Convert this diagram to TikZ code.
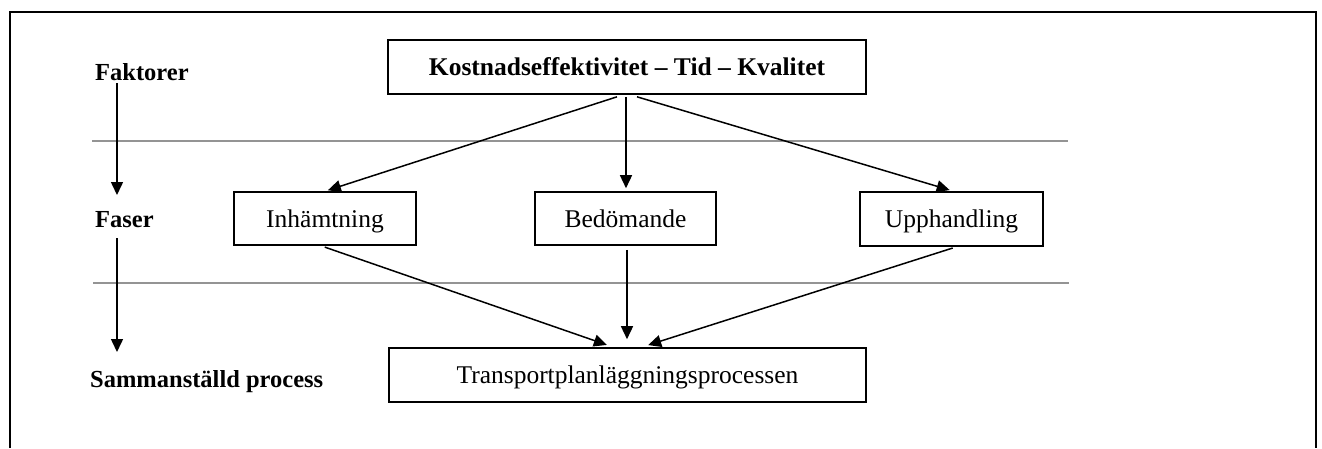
\documentclass[tikz,border=0pt]{standalone}
\usepackage{fontspec}
\setmainfont{Liberation Serif}
\usetikzlibrary{arrows.meta}
\begin{document}
\begin{tikzpicture}[x=1pt,y=-1pt,
  box/.style={draw=black,line width=1.6pt,inner sep=0pt,text height=17.5pt,text depth=0pt,font=\fontsize{25.5}{30}\selectfont},
  lbl/.style={anchor=base west,inner sep=0pt,font=\fontsize{24.5}{30}\selectfont\bfseries},
  conn/.style={draw=black,line width=1.5pt,-{Triangle[length=13pt,width=12pt]}},
  sep/.style={draw=black!42,line width=1.6pt}]
\useasboundingbox (0,0) rectangle (1322,448);
\fill[white] (0,0) rectangle (1322,448);
% frame
\coordinate (f1) at (10,448);
\coordinate (f2) at (10,12);
\coordinate (f3) at (1316,12);
\coordinate (f4) at (1316,448);
\draw[line width=2.6pt,line join=miter] (f1) -- (f2) -- (f3) -- (f4);
% separators
\coordinate (s1a) at (92,141);
\coordinate (s1b) at (1068,141);
\coordinate (s2a) at (93,283);
\coordinate (s2b) at (1069,283);
\draw[sep] (s1a) -- (s1b);
\draw[sep] (s2a) -- (s2b);
% labels
\node[lbl] (fak) at (95,80) {Faktorer};
\node[lbl] (fas) at (95,227) {Faser};
\node[lbl] (sam) at (90,387) {Sammanställd process};
\coordinate (a1s) at (117,83);
\coordinate (a1e) at (117,195);
\coordinate (a2s) at (117,238);
\coordinate (a2e) at (117,352);
\draw[conn] (a1s) -- (a1e);
\draw[conn] (a2s) -- (a2e);
% boxes
\node[box,font=\fontsize{25.5}{30}\selectfont\bfseries,minimum width=478pt,minimum height=54pt] (top) at (627,67) {Kostnadseffektivitet -- Tid -- Kvalitet};
\node[box,minimum width=182pt,minimum height=53pt] (inh) at (325,218.5) {Inhämtning};
\node[box,minimum width=181pt,minimum height=53pt] (bed) at (625.5,218.5) {Bedömande};
\node[box,minimum width=183pt,minimum height=54pt] (upp) at (951.5,219) {Upphandling};
\node[box,minimum width=477pt,minimum height=54pt] (tra) at (627.5,375) {Transportplanläggningsprocessen};
% connectors
\draw[conn,shorten >=3pt] ([xshift=-10pt,yshift=-2pt]top.south) -- (inh.north);
\draw[conn,shorten >=3pt] ([xshift=-1pt,yshift=-2pt]top.south) -- ([xshift=0.5pt]bed.north);
\draw[conn,shorten >=4pt] ([xshift=10pt,yshift=-2pt]top.south) -- ([xshift=2pt]upp.north);
\draw[conn,shorten <=4pt,shorten >=7pt] ([xshift=-4pt]inh.south) -- ([xshift=-14pt]tra.north);
\draw[conn,shorten <=4pt,shorten >=8pt] ([xshift=1.5pt]bed.south) -- ([xshift=-0.5pt]tra.north);
\draw[conn,shorten <=4pt,shorten >=7pt] ([xshift=5pt]upp.south) -- ([xshift=14pt]tra.north);
\end{tikzpicture}
\end{document}
